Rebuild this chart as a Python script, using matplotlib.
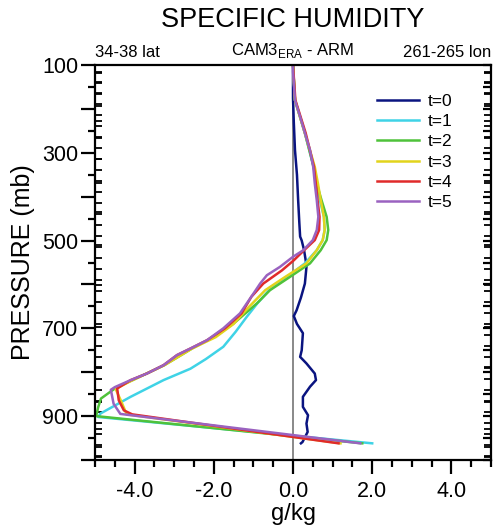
import numpy as np
import matplotlib
matplotlib.use("Agg")
import matplotlib.pyplot as plt
from matplotlib.ticker import FixedLocator, NullFormatter, FuncFormatter

plt.rcParams["font.family"] = ["Liberation Sans", "DejaVu Sans"]
plt.rcParams["mathtext.fontset"] = "custom"
plt.rcParams["mathtext.rm"] = "Liberation Sans"

# ================= DATA =================
labels = ["t=0", "t=1", "t=2", "t=3", "t=4", "t=5"]
colors = ["#0a1480", "#3fd3e6", "#4fc23a", "#e2d41c", "#e02a2a", "#9a62c0"]

p_t0 = [100, 175, 230, 294, 350, 408, 460, 491, 500, 522, 545, 560, 598, 630,
        659, 672, 690, 711, 750, 765, 780, 803, 818, 833, 856, 879, 898, 917, 936, 959, 962]
q_t0 = [0.0, 0.0, 0.02, 0.05, 0.1, 0.13, 0.16, 0.18, 0.22, 0.28, 0.32, 0.34, 0.3, 0.2,
        0.09, 0.02, 0.1, 0.25, 0.22, 0.18, 0.34, 0.55, 0.58, 0.43, 0.25, 0.25, 0.38, 0.34, 0.37, 0.24, 0.2]

p_t1 = [100, 180, 255, 332, 370, 408, 446, 476, 499, 522, 552, 583, 613, 643,
        674, 708, 742, 770, 792, 818, 840, 856, 894, 902, 962]
q_t1 = [0.0, 0.05, 0.3, 0.52, 0.6, 0.68, 0.78, 0.8, 0.75, 0.6, 0.3, -0.15, -0.6, -0.9,
        -1.17, -1.45, -1.76, -2.2, -2.59, -3.27, -3.75, -4.1, -4.86, -4.92, 2.0]

p_t2 = [100, 180, 255, 332, 370, 408, 446, 476, 499, 522, 552, 583, 613, 643,
        689, 720, 746, 784, 818, 834, 860, 880, 900, 962]
q_t2 = [0.0, 0.05, 0.3, 0.52, 0.6, 0.72, 0.85, 0.89, 0.85, 0.7, 0.43, -0.08, -0.58, -0.91,
        -1.5, -2.0, -2.55, -3.25, -4.05, -4.45, -4.85, -4.92, -4.97, 1.75]

p_t3 = [100, 180, 255, 332, 370, 408, 446, 476, 499, 522, 552, 583, 613, 650,
        690, 720, 746, 784, 818, 838, 864, 896, 962]
q_t3 = [0.0, 0.05, 0.3, 0.55, 0.63, 0.7, 0.78, 0.8, 0.75, 0.6, 0.34, -0.2, -0.7, -1.1,
        -1.5, -1.95, -2.55, -3.25, -4.05, -4.48, -4.35, -4.2, 1.2]

p_t4 = [100, 180, 255, 332, 408, 446, 476, 499, 522, 545, 568, 598, 628, 666,
        700, 727, 746, 761, 784, 803, 818, 837, 864, 887, 896, 962]
q_t4 = [0.0, 0.06, 0.32, 0.53, 0.62, 0.67, 0.66, 0.55, 0.28, 0.02, -0.28, -0.75, -1.05, -1.3,
        -1.72, -2.17, -2.59, -2.93, -3.27, -3.69, -4.1, -4.44, -4.4, -4.27, -4.06, 1.15]

p_t5 = [100, 115, 180, 218, 255, 294, 332, 370, 408, 446, 476, 499, 522, 537,
        560, 579, 598, 621, 666, 700, 727, 746, 761, 784, 803, 818, 834, 840, 872, 895, 962]
q_t5 = [0.0, 0.0, 0.05, 0.18, 0.3, 0.43, 0.51, 0.55, 0.6, 0.64, 0.6, 0.5, 0.26, 0.0,
        -0.33, -0.66, -0.83, -1.0, -1.34, -1.76, -2.17, -2.59, -2.93, -3.27, -3.69, -4.1, -4.5, -4.6, -4.53, -4.36, 1.7]

pressures = [p_t0, p_t1, p_t2, p_t3, p_t4, p_t5]
values = [q_t0, q_t1, q_t2, q_t3, q_t4, q_t5]

# model / obs level ticks
arm_levels = [115, 140, 165, 190, 215, 240, 265, 290, 315, 340, 365, 390, 415, 440,
              465, 490, 515, 540, 565, 590, 615, 640, 665, 690, 715, 740, 765, 790,
              815, 840, 865, 890, 915, 940, 965, 990]
cam_levels = [118.25, 139.12, 163.66, 192.54, 226.51, 266.48, 313.50, 368.82,
              433.90, 510.46, 600.52, 696.80, 787.70, 867.16, 929.65, 970.55, 992.56]

# ================= PLOT =================
fig = plt.figure(figsize=(4.93, 5.31), dpi=100)
ax = fig.add_axes([95 / 493, 1 - 460 / 531, 396 / 493, 395 / 531])

ax.axvline(0, color="#808080", lw=1.3, zorder=1)
for p, q, c, lab in zip(pressures, values, colors, labels):
    ax.plot(q, p, color=c, lw=1.8, label=lab, zorder=2)

ax.set_xlim(-5, 5)
ax.set_ylim(1000, 100)

for s in ax.spines.values():
    s.set_linewidth(1.6)

# x ticks
ax.xaxis.set_major_locator(FixedLocator([-4, -2, 0, 2, 4]))
ax.xaxis.set_minor_locator(FixedLocator(np.arange(-5, 5.01, 0.5)))
ax.xaxis.set_major_formatter(FuncFormatter(lambda v, pos: "%.1f" % v))
ax.tick_params(axis="x", which="major", direction="out", length=10, width=1.6,
               labelsize=15.5, pad=5)
ax.tick_params(axis="x", which="minor", direction="out", length=5, width=1.6)

# y ticks
ax.yaxis.set_major_locator(FixedLocator(np.arange(100, 1001, 100)))
ax.yaxis.set_minor_locator(FixedLocator(arm_levels + cam_levels))
ax.yaxis.set_major_formatter(FuncFormatter(lambda v, pos: "%d" % v if int(v) % 200 == 100 else ""))
ax.tick_params(axis="y", which="major", direction="out", length=10, width=1.6,
               labelsize=15.5, pad=2)
ax.tick_params(axis="y", which="minor", direction="in", length=5, width=1.3)

mid = ax.secondary_yaxis("left")
mid.spines["left"].set_visible(False)
mid.yaxis.set_major_locator(FixedLocator(np.arange(150, 1000, 100)))
mid.yaxis.set_major_formatter(NullFormatter())
mid.tick_params(axis="y", which="major", direction="out", length=5, width=1.6)

right = ax.secondary_yaxis("right")
right.spines["right"].set_visible(False)
right.yaxis.set_major_locator(FixedLocator(np.arange(100, 1001, 50)))
right.yaxis.set_minor_locator(FixedLocator(arm_levels + cam_levels))
right.yaxis.set_major_formatter(NullFormatter())
right.tick_params(axis="y", which="major", direction="in", length=6, width=1.6)
right.tick_params(axis="y", which="minor", direction="in", length=5, width=1.3)

ax.set_xlabel("g/kg", fontsize=17, labelpad=1)
ax.set_ylabel("PRESSURE (mb)", fontsize=18, labelpad=5)

fig.text(293 / 493, 1 - 20 / 531, "SPECIFIC HUMIDITY", fontsize=19.5,
         ha="center", va="center")
ax.text(0.0, 1.012, "34-38 lat", transform=ax.transAxes, fontsize=12,
        ha="left", va="bottom")
ax.text(0.5, 1.012, r"CAM3$_{\mathrm{ERA}}$ - ARM", transform=ax.transAxes,
        fontsize=12, ha="center", va="bottom")
ax.text(1.0, 1.012, "261-265 lon", transform=ax.transAxes, fontsize=12,
        ha="right", va="bottom")

ax.legend(loc="upper left", bbox_to_anchor=(0.712, 0.928), frameon=False,
          fontsize=12.5, handlelength=2.4, handletextpad=0.55, labelspacing=0.3,
          borderpad=0, borderaxespad=0)

fig.savefig("out.png", dpi=100)
